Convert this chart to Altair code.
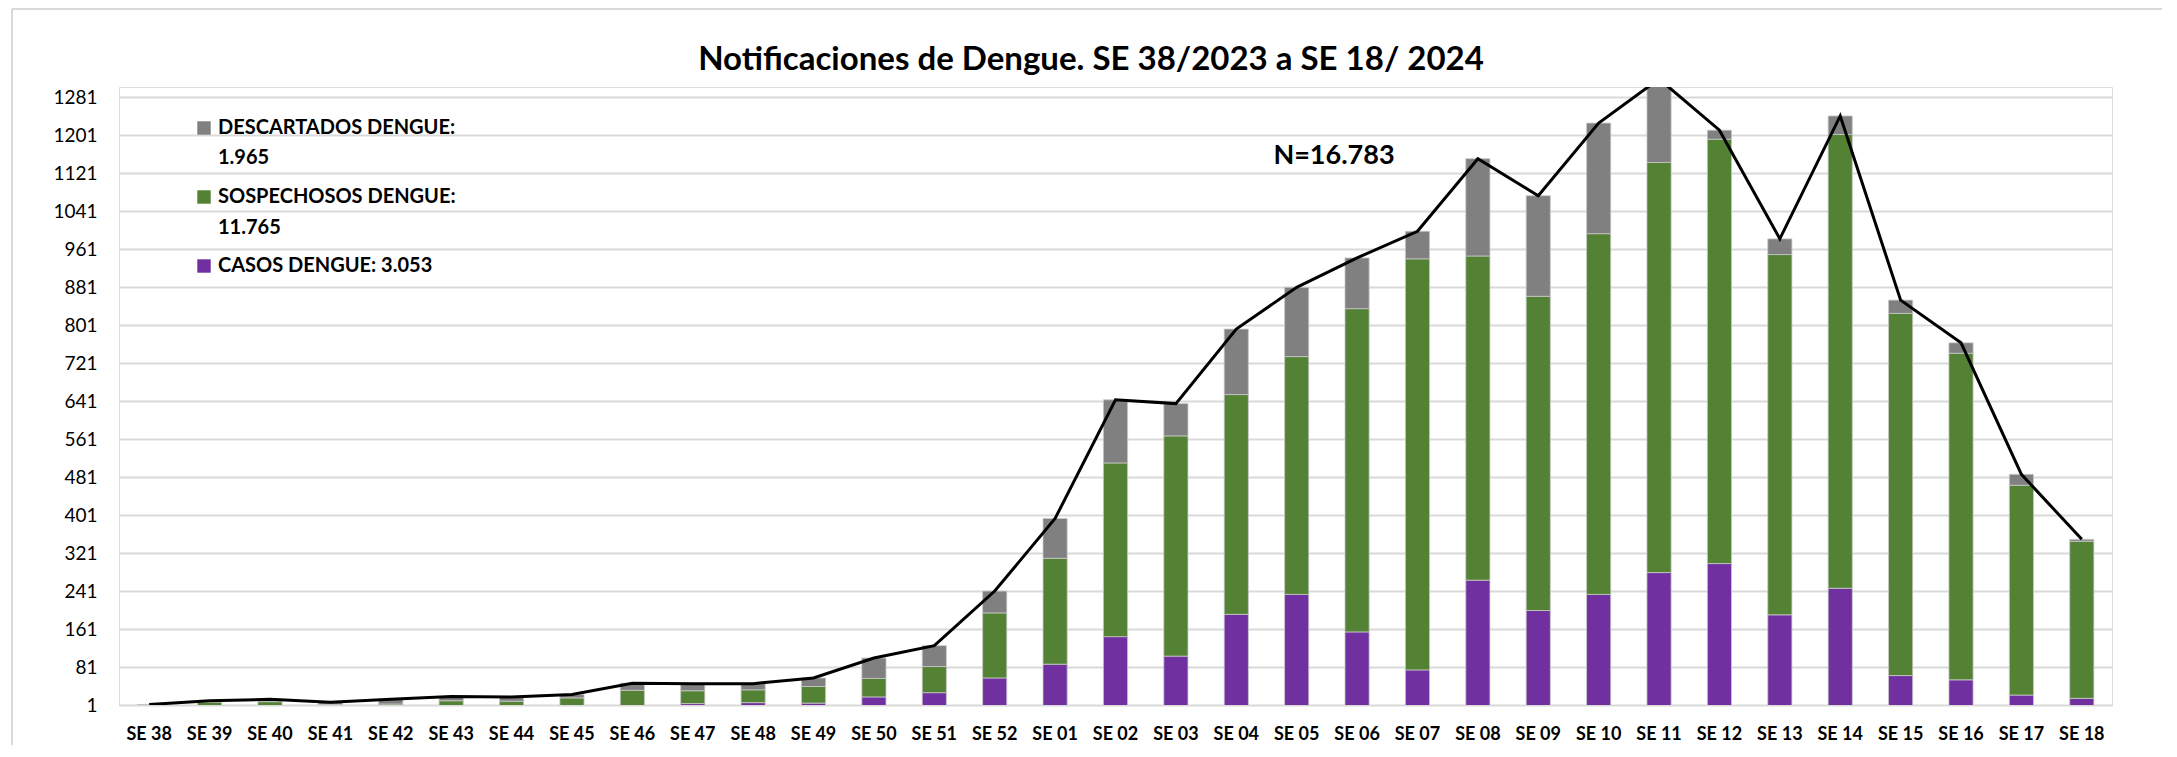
import altair as alt
import pandas as pd

# ---------------- data ----------------
semanas = ["SE 38", "SE 39", "SE 40", "SE 41", "SE 42", "SE 43", "SE 44", "SE 45",
           "SE 46", "SE 47", "SE 48", "SE 49", "SE 50", "SE 51", "SE 52",
           "SE 01", "SE 02", "SE 03", "SE 04", "SE 05", "SE 06", "SE 07", "SE 08",
           "SE 09", "SE 10", "SE 11", "SE 12", "SE 13", "SE 14", "SE 15", "SE 16",
           "SE 17", "SE 18"]
casos = [0, 0, 0, 0, 0, 0, 0, 0, 0, 4, 6, 5, 18, 27, 58, 87, 145, 104, 192, 234,
         155, 75, 264, 200, 234, 280, 299, 191, 247, 63, 54, 22, 15]
sospechosos = [1, 7, 8, 2, 3, 10, 9, 16, 32, 27, 27, 35, 39, 55, 137, 223, 366,
               464, 463, 501, 681, 866, 683, 662, 760, 864, 894, 759, 956, 763,
               688, 442, 331]
descartados = [1, 3, 5, 5, 10, 9, 9, 7, 15, 15, 13, 18, 43, 44, 46, 84, 133, 68,
               138, 146, 107, 58, 205, 212, 233, 176, 19, 33, 39, 28, 22, 23, 4]
series = ["CASOS DENGUE", "SOSPECHOSOS DENGUE", "DESCARTADOS DENGUE"]
colores = ["#7030A0", "#548235", "#808080"]
y_ticks = [1, 81, 161, 241, 321, 401, 481, 561, 641, 721, 801, 881, 961, 1041,
           1121, 1201, 1281]
titulo = "Notificaciones de Dengue. SE 38/2023 a SE 18/ 2024"
anotacion = "N=16.783"
leyenda = [("DESCARTADOS DENGUE:", "1.965"), ("SOSPECHOSOS DENGUE:", "11.765"),
           ("CASOS DENGUE: 3.053", None)]

# ---------------- tables ----------------
rows = []
for i, s in enumerate(semanas):
    for k, (name, vals) in enumerate(zip(series, [casos, sospechosos, descartados])):
        rows.append({"semana": s, "serie": name, "valor": vals[i], "orden": k})
df = pd.DataFrame(rows)
df = df[df["valor"] > 0]
tot = pd.DataFrame({"semana": semanas,
                    "total": [c + s + d for c, s, d in zip(casos, sospechosos, descartados)]})

# ---------------- layout ----------------
FONT = "Lato"
W, H = 1993, 618
PAD_L, PAD_T, PAD_R, PAD_B = 111, 79, 50, 40

xenc = alt.X("semana:N", sort=semanas,
             scale=alt.Scale(domain=semanas, paddingInner=0.6, paddingOuter=0.3),
             axis=alt.Axis(title=None, labelAngle=0, labelFont=FONT, labelFontSize=18,
                           labelFontWeight="bold", labelColor="#000000", ticks=False,
                           domain=False, labelPadding=20, grid=False))
yscale = alt.Scale(domain=[1, 1303], nice=False, zero=False)

bars = alt.Chart(df).mark_bar(clip=True, stroke="#C8C8C8", strokeWidth=0.8).encode(
    x=xenc,
    y=alt.Y("valor:Q", stack="zero", scale=yscale,
            axis=alt.Axis(values=y_ticks, tickCount=40, format="d", labelOverlap=False,
                          title=None, labelFont=FONT, labelFontSize=19,
                          labelColor="#000000", ticks=False, domain=False,
                          labelPadding=22, grid=True, gridColor="#D9D9D9",
                          gridWidth=2)),
    color=alt.Color("serie:N", scale=alt.Scale(domain=series, range=colores), legend=None),
    order=alt.Order("orden:Q"),
)

line = alt.Chart(tot).mark_line(color="#000000", strokeWidth=3, clip=True).encode(
    x=alt.X("semana:N", sort=semanas),
    y=alt.Y("total:Q", scale=yscale),
)

one = pd.DataFrame({"a": [0]})
layers = [bars, line]

# legend (manual, inside plot, upper left)
sq_x, tx_x = 85, 99
rows_y = [(41, 71), (110, 141), (179, None)]
for (lab1, lab2), (y1, y2), col in zip(leyenda, rows_y, colores[::-1]):
    layers.append(alt.Chart(one).mark_square(size=180, color=col, opacity=1).encode(
        x=alt.value(sq_x), y=alt.value(y1)))
    layers.append(alt.Chart(one).mark_text(text=lab1, font=FONT, fontSize=20,
                                           fontWeight="bold", align="left",
                                           baseline="middle", color="#000000").encode(
        x=alt.value(tx_x), y=alt.value(y1)))
    if lab2:
        layers.append(alt.Chart(one).mark_text(text=lab2, font=FONT, fontSize=20,
                                               fontWeight="bold", align="left",
                                               baseline="middle", color="#000000").encode(
            x=alt.value(tx_x), y=alt.value(y2)))

# N annotation
layers.append(alt.Chart(one).mark_text(text=anotacion, font=FONT, fontSize=27,
                                       fontWeight="bold", align="center",
                                       baseline="middle", color="#000000").encode(
    x=alt.value(1215), y=alt.value(69)))

# chart title
layers.append(alt.Chart(one).mark_text(text=titulo, font=FONT, fontSize=33,
                                       fontWeight="bold", align="center",
                                       baseline="alphabetic", color="#000000").encode(
    x=alt.value(972), y=alt.value(-17)))

# chart area border (left and top)
layers.append(alt.Chart(one).mark_rule(color="#D9D9D9", strokeWidth=2).encode(
    x=alt.value(-107), y=alt.value(-78), y2=alt.value(H + PAD_B)))
layers.append(alt.Chart(one).mark_rule(color="#D9D9D9", strokeWidth=2).encode(
    x=alt.value(-107), x2=alt.value(W + PAD_R), y=alt.value(-78)))

chart = alt.layer(*layers).properties(
    width=W, height=H,
    autosize=alt.AutoSizeParams(type="none"),
    padding={"left": PAD_L, "top": PAD_T, "right": PAD_R, "bottom": PAD_B},
).configure_view(stroke=None).configure(background="white")

chart.save("out.html", embed_options={"renderer": "svg", "actions": False})
